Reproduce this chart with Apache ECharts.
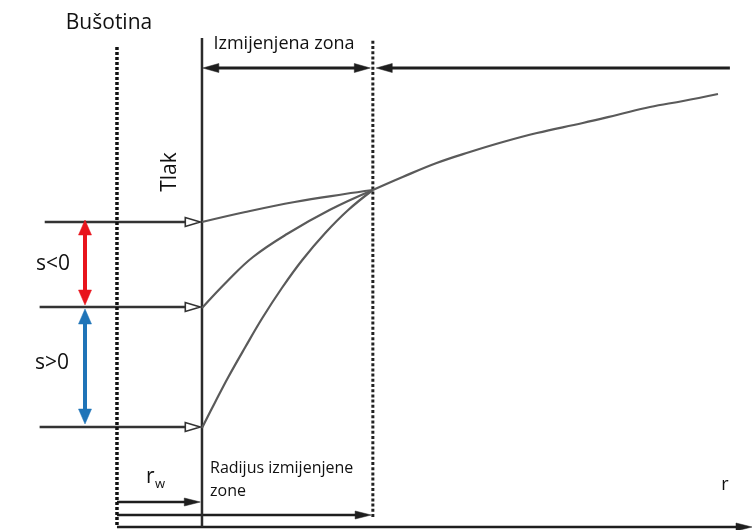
<!DOCTYPE html>
<html><head><meta charset="utf-8">
<script src="https://cdn.jsdelivr.net/npm/echarts@6/dist/echarts.min.js"></script>
<style>html,body{margin:0;padding:0;background:#fff}#c{width:752px;height:530px}</style>
</head><body><div id="c"></div>
<script>
// r: radial distance in units of the wellbore radius (wellbore axis at r = 0)
// p: pressure (arbitrary units)
const rAxisMin = -1.376, rAxisMax = 7.47;
const pAxisMin = -0.3, pAxisMax = 52.7;

const rWellbore = 0;      // dotted line "Bušotina"
const rW = 1;             // well radius (solid line "Tlak")
const rSkin = 3.01;       // radius of altered zone (dotted line)

// pressure profiles inside the altered zone
const curveNegSkin = [[1.00,30.5],[1.51,31.5],[2.09,32.5],[2.68,33.3],[3.01,33.7]];
const curveNoSkin  = [[1.00,21.9],[1.30,24.6],[1.60,27.0],[2.00,29.3],[2.50,31.7],[3.01,33.7]];
const curvePosSkin = [[1.00,9.9],[1.15,12.4],[1.31,15.0],[1.51,18.0],[1.71,20.9],[1.94,23.9],[2.18,26.7],[2.45,29.4],[2.72,31.7],[3.01,33.7]];
// pressure profile outside the altered zone
const curveOuter   = [[3.01,33.7],[3.36,35.0],[3.76,36.4],[4.15,37.5],[4.54,38.5],[4.94,39.4],[5.48,40.4],[5.88,41.2],[6.27,42.0],[6.66,42.6],[7.07,43.3]];

// bottom-hole pressure levels (s<0, s=0, s>0): [rStart, rTip, p]
const wellLevels = [[-0.85, 0.98, 30.5], [-0.91, 0.98, 22.0], [-0.91, 0.98, 10.0]];

// vertical extents of the vertical lines
const wellboreSpan = [0.2, 48.2];
const rWSpan = [0.0, 48.9];
const rSkinSpan = [1.0, 48.7];

// skin double arrows: [r, pTopTip, r, pBottomTip]
const arrowNeg = [[-0.376, 30.7, -0.376, 22.2]];
const arrowPos = [[-0.376, 21.8, -0.376, 10.3]];

// "Izmijenjena zona" arrows at the top: [rFrom, p, rTo, p]
const zoneArrowInner = [[1.01, 45.9, 2.98, 45.9]];
const zoneArrowOuter = [[7.21, 45.9, 3.05, 45.9]];

// bottom arrows: [rFrom, p, rTip, p]
const bottomArrows = [[0, 2.5, 0.98, 2.5], [0, 1.2, 2.99, 1.2], [0, 0.0, 7.47, 0.0]];

const labels = {
  wellbore: 'Bušotina',
  zone: 'Izmijenjena zona',
  pressure: 'Tlak',
  neg: 's<0',
  pos: 's>0',
  r: 'r',
  sub: 'w',
  radius: 'Radijus izmijenjene\nzone',
  axis: 'r'
};

const FONT = '"Open Sans", "Noto Sans", sans-serif';
const curveColor = '#5a5a5a';
const lineColor = '#2b2b2b';

function plainLine(data, style) {
  return { type: 'line', data: data, symbol: 'none', silent: true, animation: false,
    lineStyle: Object.assign({ color: lineColor, width: 2.5, cap: 'butt' }, style) };
}
function curve(data) {
  return { type: 'line', data: data, symbol: 'none', smooth: 0.4, silent: true, animation: false,
    lineStyle: { color: curveColor, width: 2.2 } };
}
// custom series: each item [x1, y1, x2, y2]; arrowhead(s) at the given ends
function arrows(data, o) {
  return {
    type: 'custom', silent: true, animation: false, clip: false, data: data,
    encode: { x: [0, 2], y: [1, 3] },
    renderItem: function (params, api) {
      const a = api.coord([api.value(0), api.value(1)]);
      const b = api.coord([api.value(2), api.value(3)]);
      const dx = b[0] - a[0], dy = b[1] - a[1];
      const len = Math.hypot(dx, dy) || 1;
      const ux = dx / len, uy = dy / len, nx = -uy, ny = ux;
      const L = o.headL, W = o.headW;
      const trim = o.hollow ? L : L * 0.7;
      const head = function (tip, sx, sy) {
        const bx = tip[0] - sx * L, by = tip[1] - sy * L;
        return { type: 'polygon', shape: { points: [[tip[0], tip[1]], [bx + nx * W / 2, by + ny * W / 2], [bx - nx * W / 2, by - ny * W / 2]] },
          style: { fill: o.hollow ? '#fff' : o.color, stroke: o.color, lineWidth: o.hollow ? 1.6 : 0.5, lineJoin: 'miter' } };
      };
      const s = o.start ? [a[0] + ux * trim, a[1] + uy * trim] : a;
      const e = o.end ? [b[0] - ux * trim, b[1] - uy * trim] : b;
      const children = [{ type: 'line', shape: { x1: s[0], y1: s[1], x2: e[0], y2: e[1] }, style: { stroke: o.color, lineWidth: o.width, lineCap: 'butt' } }];
      if (o.start) children.push(head(a, -ux, -uy));
      if (o.end) children.push(head(b, ux, uy));
      return { type: 'group', children: children };
    }
  };
}

const chart = echarts.init(document.getElementById('c'), null, { renderer: 'canvas' });
chart.setOption({
  backgroundColor: '#fff',
  animation: false,
  grid: { left: 0, right: 0, top: 0, bottom: 0 },
  xAxis: { type: 'value', min: rAxisMin, max: rAxisMax, show: false },
  yAxis: { type: 'value', min: pAxisMin, max: pAxisMax, show: false },
  series: [
    plainLine([[rWellbore, wellboreSpan[0]], [rWellbore, wellboreSpan[1]]], { width: 3.5, type: [3, 2], color: '#111' }),
    plainLine([[rSkin, rSkinSpan[0]], [rSkin, rSkinSpan[1]]], { width: 3, type: [3, 2.2], color: '#222' }),
    plainLine([[rW, rWSpan[0]], [rW, rWSpan[1]]], { width: 2.5 }),
    curve(curveNegSkin), curve(curveNoSkin), curve(curvePosSkin), curve(curveOuter),
    arrows(wellLevels.map(l => [l[0], l[2], l[1], l[2]]), { color: '#333', width: 2.5, end: true, hollow: true, headL: 15, headW: 9 }),
    arrows(arrowNeg, { color: '#e8141c', width: 4, start: true, end: true, headL: 15, headW: 13 }),
    arrows(arrowPos, { color: '#1f74b8', width: 4, start: true, end: true, headL: 15, headW: 13 }),
    arrows(zoneArrowInner, { color: '#1e1e1e', width: 3, start: true, end: true, headL: 16, headW: 9 }),
    arrows(zoneArrowOuter, { color: '#1e1e1e', width: 3, end: true, headL: 16, headW: 9 }),
    arrows(bottomArrows, { color: '#1e1e1e', width: 2.5, end: true, headL: 16, headW: 8 })
  ],
  graphic: [
    { type: 'text', x: 109, y: 23, silent: true, style: { text: labels.wellbore, font: '21px ' + FONT, fill: '#111', align: 'center', verticalAlign: 'middle' } },
    { type: 'text', x: 284, y: 44, silent: true, style: { text: labels.zone, font: '18px ' + FONT, fill: '#111', align: 'center', verticalAlign: 'middle' } },
    { type: 'text', x: 170, y: 172, rotation: Math.PI / 2, silent: true, style: { text: labels.pressure, font: '21px ' + FONT, fill: '#111', align: 'center', verticalAlign: 'middle' } },
    { type: 'text', x: 53, y: 264, silent: true, style: { text: labels.neg, font: '21px ' + FONT, fill: '#111', align: 'center', verticalAlign: 'middle' } },
    { type: 'text', x: 52, y: 363, silent: true, style: { text: labels.pos, font: '21px ' + FONT, fill: '#111', align: 'center', verticalAlign: 'middle' } },
    { type: 'text', x: 146, y: 477, silent: true, style: { text: labels.r, font: '21px ' + FONT, fill: '#111', align: 'left', verticalAlign: 'middle' } },
    { type: 'text', x: 155, y: 484, silent: true, style: { text: labels.sub, font: '13px ' + FONT, fill: '#111', align: 'left', verticalAlign: 'middle' } },
    { type: 'text', x: 210, y: 457, silent: true, style: { text: labels.radius, font: '16px ' + FONT, lineHeight: 23, fill: '#111', align: 'left', verticalAlign: 'top' } },
    { type: 'text', x: 725, y: 485, silent: true, style: { text: labels.axis, font: '18px ' + FONT, fill: '#111', align: 'center', verticalAlign: 'middle' } }
  ]
});
</script>
</body></html>
